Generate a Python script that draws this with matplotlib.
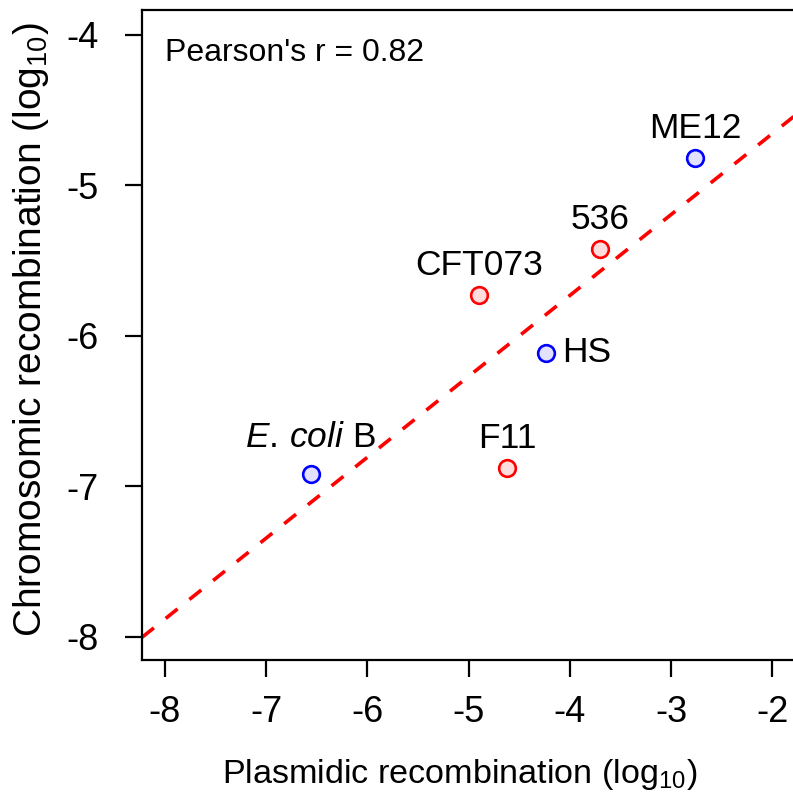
import numpy as np
import matplotlib
matplotlib.use("Agg")
from matplotlib import pyplot as plt

plt.rcParams['font.family'] = ['Liberation Sans', 'DejaVu Sans']
plt.rcParams['mathtext.fontset'] = 'custom'
plt.rcParams['mathtext.rm'] = 'Liberation Sans'
plt.rcParams['mathtext.it'] = 'Liberation Sans:italic'

strains = ['ME12', '536', 'CFT073', 'HS', 'F11', r'$\mathit{E.\,coli}$ B']
plasmidic = [-2.76, -3.70, -4.90, -4.24, -4.62, -6.56]
chromosomic = [-4.82, -5.42, -5.73, -6.11, -6.88, -6.92]
groups = ['blue', 'red', 'red', 'blue', 'red', 'blue']

edge = {'red': '#ff0000', 'blue': '#0000ff'}
face = {'red': '#ffdddd', 'blue': '#e2e2ff'}

x = np.array(plasmidic)
y = np.array(chromosomic)
slope, icpt = np.polyfit(x, y, 1)

fig = plt.figure(figsize=(7.93, 8.02), dpi=100)
W, H = 793, 802
ax = fig.add_axes([142 / W, (H - 660) / H, (805 - 142) / W, 650 / H])

xl = (-8.227, -1.676)
yl = (-8.153, -3.834)
xx = np.array(xl)
ax.plot(xx, slope * xx + icpt, color='red', lw=2.6, ls=(0, (4.2, 4.2)),
        dash_capstyle='butt', zorder=1)

for xi, yi, g in zip(x, y, groups):
    ax.plot(xi, yi, 'o', ms=12, mfc=face[g], mec=edge[g], mew=1.9, zorder=3)

for name, xi, yi in zip(strains, x, y):
    if name == 'HS':
        ax.annotate(name, (xi, yi), xytext=(12, 0), textcoords='offset points',
                    ha='left', va='center', fontsize=25.5)
    else:
        off = 20 if 'coli' in name else 14.5
        ax.annotate(name, (xi, yi), xytext=(0, off), textcoords='offset points',
                    ha='center', va='baseline', fontsize=25.5)

ax.text(0.035, 0.957, "Pearson's r = 0.82", transform=ax.transAxes,
        ha='left', va='top', fontsize=23)

ax.set_xlim(*xl)
ax.set_ylim(*yl)
ax.set_xticks(range(-8, -1))
ax.set_xticklabels([str(v) for v in range(-8, -1)])
ax.set_yticks(range(-8, -3))
ax.set_yticklabels([str(v) for v in range(-8, -3)])
ax.tick_params(direction='out', length=12, width=1.6, labelsize=26)
ax.tick_params(axis='x', pad=13)
ax.tick_params(axis='y', pad=19)
for s in ax.spines.values():
    s.set_linewidth(1.6)

ax.set_xlabel('Plasmidic recombination (log$_{10}$)', fontsize=24.6)
ax.set_ylabel('Chromosomic recombination (log$_{10}$)', fontsize=28)
ax.xaxis.set_label_coords((460 - 142) / (805 - 142), -(775 - 660) / 650)
ax.yaxis.set_label_coords(-(142 - 31) / (805 - 142), (660 - 330) / 650)
ax.xaxis.label.set_va('center')
ax.yaxis.label.set_va('center')

fig.savefig('out.png', dpi=100)
